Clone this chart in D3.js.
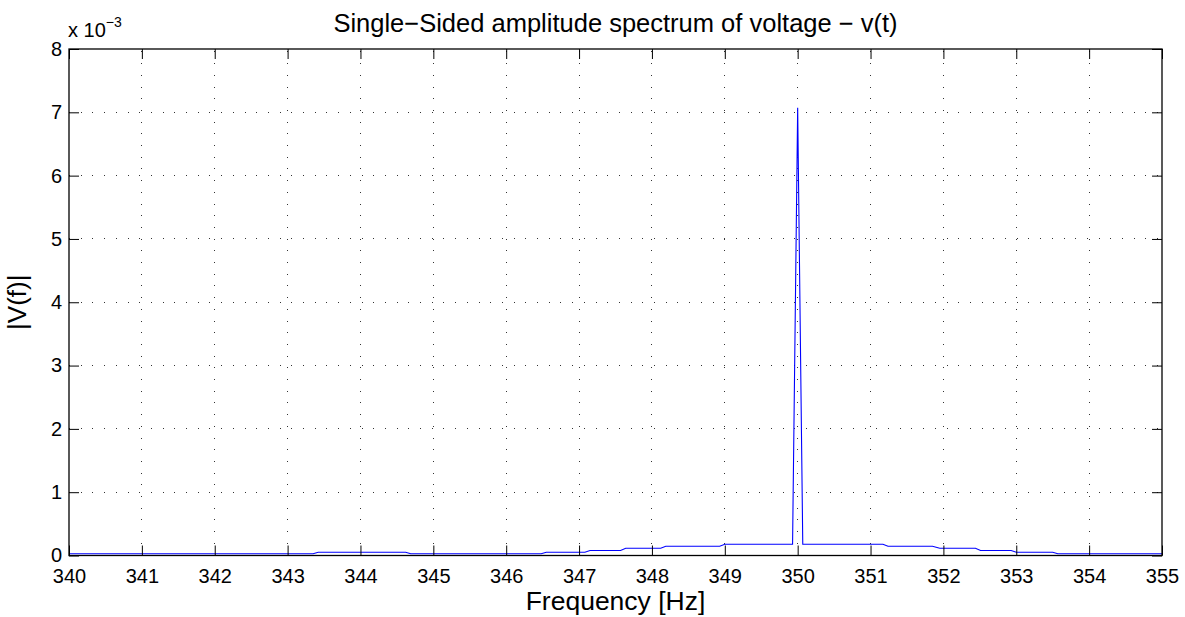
<!DOCTYPE html>
<html>
<head>
<meta charset="utf-8">
<script src="https://cdn.jsdelivr.net/npm/d3@7"></script>
<style>
  html, body { margin: 0; padding: 0; background: #fff; }
  svg { display: block; font-family: "Liberation Sans", Arial, Helvetica, sans-serif; }
</style>
</head>
<body>
<svg id="chart" width="1185" height="617"></svg>
<script>
// ---- data (vertices of the spectrum polyline) ----
const freqHz = [340, 343.35, 343.42, 344.62, 344.69, 346.48, 346.55, 347.08, 347.15, 347.57, 347.64,
                348.12, 348.19, 348.93, 349.0, 349.93, 350.0, 350.07, 351.17, 351.24, 351.85, 351.95,
                352.44, 352.51, 352.93, 353.0, 353.5, 353.57, 355];
const amplitude = [0.027e-3, 0.027e-3, 0.052e-3, 0.052e-3, 0.027e-3, 0.027e-3, 0.052e-3, 0.052e-3, 0.079e-3, 0.079e-3, 0.115e-3,
                   0.115e-3, 0.147e-3, 0.147e-3, 0.178e-3, 0.178e-3, 7.07e-3, 0.178e-3, 0.178e-3, 0.147e-3, 0.147e-3, 0.115e-3,
                   0.115e-3, 0.079e-3, 0.079e-3, 0.052e-3, 0.052e-3, 0.027e-3, 0.027e-3];
const xTicks = [340, 341, 342, 343, 344, 345, 346, 347, 348, 349, 350, 351, 352, 353, 354, 355];
const yTicks = [0, 1e-3, 2e-3, 3e-3, 4e-3, 5e-3, 6e-3, 7e-3, 8e-3];
const titleText = "Single\u2212Sided amplitude spectrum of voltage \u2212 v(t)";
const xLabel = "Frequency [Hz]";
const yLabel = "|V(f)|";

// ---- layout ----
const pLeft = 69, pRight = 1162, pTop = 49, pBottom = 555.5;
const svg = d3.select("#chart");
const x = d3.scaleLinear().domain([340, 355]).range([pLeft, pRight]);
const y = d3.scaleLinear().domain([0, 8e-3]).range([pBottom, pTop]);
const tickLen = 10;
const fs = 20;

// grid
const grid = svg.append("g");
grid.selectAll("line.gx").data(xTicks.filter(t => t > 340 && t < 355)).enter().append("line")
  .attr("x1", d => x(d)).attr("x2", d => x(d)).attr("y1", pBottom).attr("y2", pTop)
  .attr("stroke", "#333").attr("stroke-width", 1).attr("stroke-dasharray", "1,10.7")
  .attr("shape-rendering", "crispEdges");
grid.selectAll("line.gy").data(yTicks.filter(t => t > 0 && t < 8e-3)).enter().append("line")
  .attr("y1", d => y(d)).attr("y2", d => y(d)).attr("x1", pLeft).attr("x2", pRight)
  .attr("stroke", "#333").attr("stroke-width", 1).attr("stroke-dasharray", "1,10.7")
  .attr("shape-rendering", "crispEdges");

// data line
const line = d3.line().x((d, i) => x(freqHz[i])).y(d => y(d));
svg.append("path").datum(amplitude)
  .attr("d", line).attr("fill", "none").attr("stroke", "#0000ff").attr("stroke-width", 1.1);

// axes (ticks inward)
const xAxisB = d3.axisBottom(x).tickValues(xTicks).tickSizeInner(-tickLen).tickSizeOuter(0).tickPadding(13);
const xAxisT = d3.axisTop(x).tickValues(xTicks).tickSizeInner(-tickLen).tickSizeOuter(0).tickFormat("");
const yAxisL = d3.axisLeft(y).tickValues(yTicks).tickSizeInner(-tickLen).tickSizeOuter(0).tickPadding(7)
  .tickFormat(d => d3.format("d")(Math.round(d * 1000)));
const yAxisR = d3.axisRight(y).tickValues(yTicks).tickSizeInner(-tickLen).tickSizeOuter(0).tickFormat("");

function style(g) {
  g.select(".domain").remove();
  g.selectAll(".tick line").attr("stroke", "#000").attr("stroke-width", 1);
  g.selectAll(".tick text").attr("font-size", fs).attr("fill", "#000")
    .attr("font-family", "Liberation Sans, Arial, sans-serif");
}
svg.append("g").attr("transform", `translate(0,${pBottom})`).call(xAxisB).call(style);
svg.append("g").attr("transform", `translate(0,${pTop})`).call(xAxisT).call(style);
svg.append("g").attr("transform", `translate(${pLeft},0)`).call(yAxisL).call(style);
svg.append("g").attr("transform", `translate(${pRight},0)`).call(yAxisR).call(style);

// frame
svg.append("rect").attr("x", pLeft).attr("y", pTop).attr("width", pRight - pLeft).attr("height", pBottom - pTop)
  .attr("fill", "none").attr("stroke", "#000").attr("stroke-width", 1.3);

// exponent label
const ex = svg.append("text").attr("x", pLeft - 1).attr("y", 37).attr("font-size", fs).attr("fill", "#000");
ex.append("tspan").text("x 10");
ex.append("tspan").attr("dy", -10).attr("font-size", 14).text("\u22123");

// title
svg.append("text").attr("x", (pLeft + pRight) / 2).attr("y", 32).attr("text-anchor", "middle")
  .attr("font-size", 25.5).attr("fill", "#000").text(titleText);
// x label
svg.append("text").attr("x", (pLeft + pRight) / 2).attr("y", 610).attr("text-anchor", "middle")
  .attr("font-size", 26.5).attr("fill", "#000").text(xLabel);
// y label
svg.append("text").attr("transform", `translate(26,${(pTop + pBottom) / 2}) rotate(-90)`).attr("text-anchor", "middle")
  .attr("font-size", 26).attr("fill", "#000").text(yLabel);
</script>
</body>
</html>
